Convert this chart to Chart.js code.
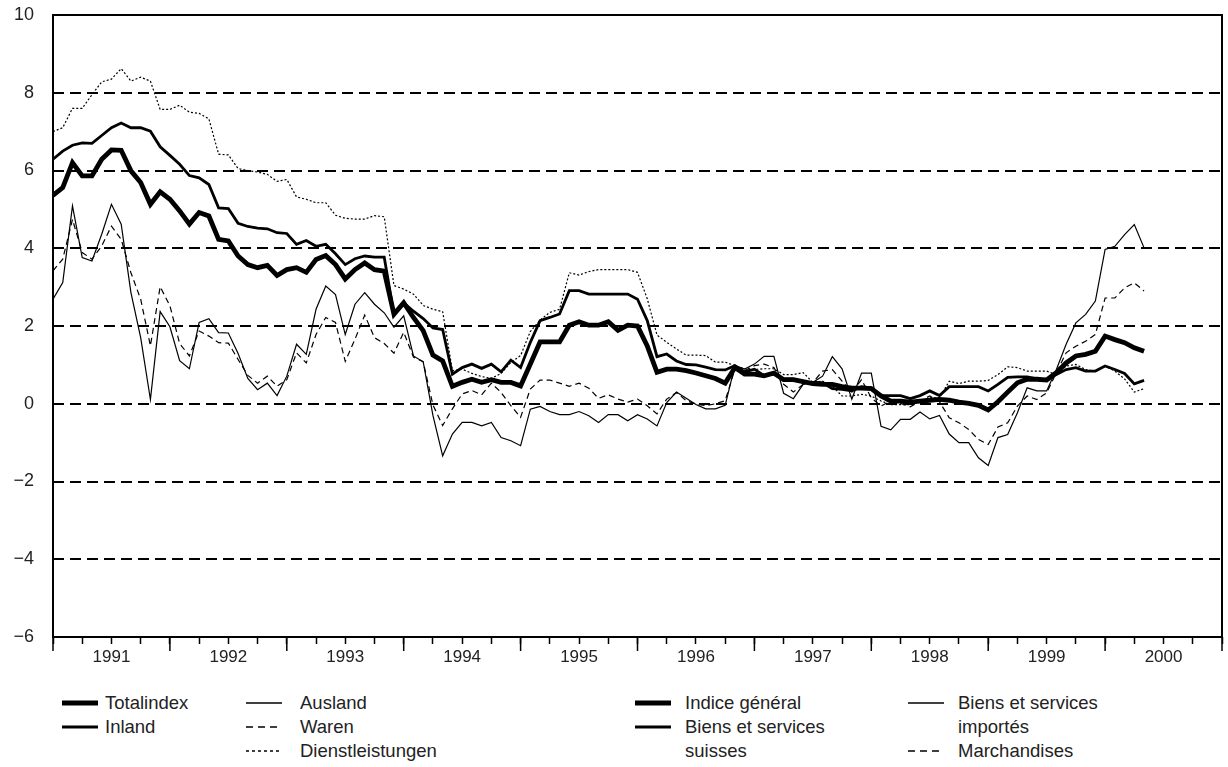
<!DOCTYPE html>
<html>
<head>
<meta charset="utf-8">
<script src="https://cdn.jsdelivr.net/npm/chart.js@4.4.0/dist/chart.umd.min.js"></script>
<style>
  body { margin: 0; background: #fff; }
  #wrap { position: relative; width: 1228px; height: 767px; font-family: "Liberation Sans", Arial, sans-serif; color: #222; }
  #chart { position: absolute; left: 0; top: 0; }
  .lg { position: absolute; font-size: 18.5px; line-height: 24px; white-space: nowrap; }
  .sw { position: absolute; }
</style>
</head>
<body>
<div id="wrap">
  <canvas id="chart" width="1228" height="680"></canvas>
  <div id="legend"></div>
</div>
<script>
// monthly values, Jan 1991 .. May 2000
const yearLabels = ['1991', '1992', '1993', '1994', '1995', '1996', '1997', '1998', '1999', '2000'];

const totalindex = [
  5.36, 5.56, 6.2, 5.86, 5.86, 6.29, 6.53, 6.52, 5.99, 5.69,
  5.13, 5.45, 5.26, 4.96, 4.62, 4.92, 4.83, 4.23, 4.19, 3.8,
  3.58, 3.5, 3.56, 3.3, 3.45, 3.5, 3.38, 3.71, 3.81, 3.58,
  3.21, 3.45, 3.62, 3.45, 3.41, 2.3, 2.6, 2.22, 1.88, 1.25,
  1.1, 0.45, 0.55, 0.63, 0.55, 0.62, 0.55, 0.55, 0.46, 1.02,
  1.59, 1.59, 1.59, 2.02, 2.11, 2.02, 2.02, 2.11, 1.89, 2.02,
  2.0, 1.49, 0.81, 0.89, 0.89, 0.85, 0.79, 0.72, 0.65, 0.53,
  0.93, 0.76, 0.76, 0.72, 0.79, 0.62, 0.62, 0.57, 0.52, 0.5,
  0.5, 0.44, 0.4, 0.4, 0.39, 0.2, 0.07, 0.07, 0.04, 0.07,
  0.09, 0.11, 0.09, 0.04, 0.01, -0.04, -0.16, 0.05, 0.3, 0.54,
  0.63, 0.63, 0.61, 0.8, 1.05, 1.23, 1.27, 1.35, 1.74, 1.65,
  1.57, 1.44, 1.35
];

const inland = [
  6.29, 6.5, 6.65, 6.71, 6.7, 6.9, 7.1, 7.22, 7.1, 7.1,
  7.01, 6.61, 6.39, 6.16, 5.87, 5.81, 5.64, 5.04, 5.02, 4.64,
  4.56, 4.52, 4.5, 4.4, 4.38, 4.1, 4.2, 4.05, 4.1, 3.86,
  3.58, 3.73, 3.8, 3.77, 3.77, 2.3, 2.6, 2.38, 2.19, 1.95,
  1.91, 0.76, 0.93, 1.02, 0.91, 1.02, 0.82, 1.12, 0.93, 1.58,
  2.14, 2.22, 2.31, 2.91, 2.91, 2.82, 2.82, 2.82, 2.82, 2.82,
  2.69, 2.14, 1.21, 1.28, 1.1, 1.01, 1.0, 0.94, 0.88, 0.87,
  0.98, 0.82, 0.89, 0.72, 0.76, 0.63, 0.63, 0.55, 0.55, 0.54,
  0.39, 0.37, 0.33, 0.44, 0.41, 0.21, 0.21, 0.21, 0.13, 0.21,
  0.33, 0.21, 0.44, 0.44, 0.44, 0.44, 0.33, 0.5, 0.68, 0.69,
  0.69, 0.64, 0.63, 0.75, 0.88, 0.93, 0.84, 0.84, 0.97, 0.88,
  0.78, 0.51, 0.6
];

const ausland = [
  2.69, 3.12, 5.09, 3.76, 3.67, 4.36, 5.13, 4.62, 2.86, 1.7,
  0.11, 2.37, 1.98, 1.11, 0.9, 2.09, 2.19, 1.83, 1.82, 1.29,
  0.65, 0.36, 0.53, 0.21, 0.71, 1.53, 1.27, 2.43, 3.03, 2.81,
  1.78, 2.56, 2.86, 2.56, 2.34, 1.97, 2.26, 1.23, 1.08, -0.3,
  -1.34, -0.78, -0.48, -0.48, -0.57, -0.48, -0.87, -0.95, -1.08, -0.14,
  -0.07, -0.2, -0.28, -0.28, -0.2, -0.31, -0.48, -0.28, -0.28, -0.44,
  -0.28, -0.39, -0.57, 0.03, 0.3, 0.14, -0.02, -0.13, -0.13, -0.04,
  0.98, 0.89, 1.02, 1.22, 1.22, 0.27, 0.13, 0.5, 0.55, 0.71,
  1.21, 0.9, 0.12, 0.79, 0.79, -0.58, -0.67, -0.4, -0.4, -0.21,
  -0.39, -0.3, -0.78, -1.0, -1.0, -1.39, -1.59, -0.87, -0.79, -0.23,
  0.41, 0.33, 0.33, 0.88, 1.53, 2.08, 2.3, 2.64, 3.97, 4.05,
  4.35, 4.61, 4.01
];

const waren = [
  3.42, 3.72, 4.74, 3.89, 3.72, 4.06, 4.57, 4.23, 3.37, 2.69,
  1.49, 3.01, 2.52, 1.55, 1.23, 1.87, 1.74, 1.57, 1.56, 1.14,
  0.73, 0.53, 0.71, 0.45, 0.62, 1.31, 1.05, 1.78, 2.22, 2.09,
  1.09, 1.66, 2.28, 1.7, 1.55, 1.3, 1.84, 1.2, 1.08, -0.03,
  -0.56, -0.13, 0.25, 0.34, 0.23, 0.53, 0.29, -0.05, -0.35, 0.38,
  0.61, 0.61, 0.53, 0.45, 0.53, 0.4, 0.14, 0.23, 0.12, 0.04,
  0.12, -0.05, -0.26, 0.12, 0.29, 0.08, -0.01, -0.05, 0.0, 0.08,
  0.89, 0.85, 0.98, 1.02, 0.93, 0.5, 0.3, 0.5, 0.55, 0.84,
  0.88, 0.58, 0.3, 0.62, 0.15, -0.06, 0.07, 0.01, -0.08, 0.07,
  0.2, 0.05, -0.36, -0.49, -0.66, -0.92, -1.05, -0.6, -0.49, -0.06,
  0.2, 0.11, 0.28, 0.8, 1.31, 1.48, 1.61, 1.78, 2.72, 2.72,
  2.98, 3.11, 2.9
];

const dienstleistungen = [
  7.0, 7.1, 7.6, 7.6, 7.95, 8.28, 8.35, 8.62, 8.3, 8.4,
  8.3, 7.57, 7.57, 7.68, 7.5, 7.47, 7.33, 6.42, 6.4, 6.05,
  6.0, 5.96, 5.9, 5.72, 5.77, 5.32, 5.26, 5.17, 5.17, 4.85,
  4.77, 4.75, 4.75, 4.84, 4.81, 3.04, 2.95, 2.82, 2.53, 2.43,
  2.37, 0.85, 0.89, 0.78, 0.7, 0.65, 0.78, 1.06, 1.24, 1.86,
  2.15, 2.35, 2.43, 3.37, 3.31, 3.4, 3.45, 3.45, 3.45, 3.45,
  3.38, 2.7, 1.77, 1.58, 1.41, 1.25, 1.25, 1.24, 1.07, 1.07,
  0.98, 0.9, 0.88, 0.9, 0.9, 0.75, 0.75, 0.8, 0.55, 0.58,
  0.45, 0.2, 0.2, 0.24, 0.2, 0.07, -0.02, -0.02, -0.02, 0.07,
  0.15, 0.15, 0.58, 0.52, 0.58, 0.58, 0.6, 0.75, 0.95, 0.93,
  0.84, 0.84, 0.84, 0.75, 0.97, 1.01, 0.88, 0.84, 0.97, 0.84,
  0.64, 0.3, 0.39
];

const pts = arr => arr.map((v, i) => ({ x: i, y: v }));

const line = (label, arr, width, dash) => ({
  label: label,
  data: pts(arr),
  borderColor: '#000',
  borderWidth: width,
  borderDash: dash,
  pointRadius: 0,
  tension: 0,
  fill: false,
  borderJoinStyle: 'miter'
});

// frame round the plot and the long year ticks
const framePlugin = {
  id: 'frame',
  afterDraw(chart) {
    const { ctx, chartArea: { left, top, right, bottom } } = chart;
    const xs = chart.scales.x;
    ctx.save();
    ctx.strokeStyle = '#000';
    ctx.lineWidth = 2;
    ctx.strokeRect(left, top, right - left, bottom - top);
    ctx.lineWidth = 1.5;
    for (let m = 0; m <= 120; m += 12) {
      const px = xs.getPixelForValue(m);
      ctx.beginPath();
      ctx.moveTo(px, bottom);
      ctx.lineTo(px, bottom + 14);
      ctx.stroke();
    }
    ctx.restore();
  }
};

new Chart(document.getElementById('chart').getContext('2d'), {
  type: 'line',
  data: {
    datasets: [
      line('Totalindex', totalindex, 4.8, []),
      line('Inland', inland, 2.8, []),
      line('Ausland', ausland, 1.2, []),
      line('Waren', waren, 1.2, [6, 4]),
      line('Dienstleistungen', dienstleistungen, 1.2, [2, 2])
    ]
  },
  options: {
    responsive: false,
    animation: false,
    layout: { padding: { top: 15, right: 6, left: 0, bottom: 0 } },
    plugins: { legend: { display: false }, tooltip: { enabled: false } },
    scales: {
      x: {
        type: 'linear',
        min: 0,
        max: 120,
        afterFit: s => { s.height = 43; },
        ticks: {
          stepSize: 3,
          autoSkip: false,
          maxRotation: 0,
          minRotation: 0,
          padding: 3,
          color: '#222',
          font: { family: 'Liberation Sans', size: 17 },
          callback: v => (v % 12 === 6 ? yearLabels[(v - 6) / 12] : '')
        },
        grid: { drawOnChartArea: false, tickLength: 7, tickColor: '#000', tickWidth: 1.5 },
        border: { display: false }
      },
      y: {
        min: -6,
        max: 10,
        afterFit: s => { s.width = 53; s.paddingTop = 0; s.paddingBottom = 0; },
        ticks: {
          stepSize: 2,
          padding: 19,
          color: '#222',
          font: { family: 'Liberation Sans', size: 18 },
          callback: v => (v < 0 ? '\u2212' + Math.abs(v) : String(v))
        },
        grid: {
          drawTicks: false,
          lineWidth: 2,
          color: c => (c.tick && (c.tick.value === -6 || c.tick.value === 10) ? 'rgba(0,0,0,0)' : '#000')
        },
        border: { display: false, dash: [11, 6] }
      }
    }
  },
  plugins: [framePlugin]
});

// legend, drawn as page text
const legendItems = [
  { sx: 62, tx: 105, row: 0, w: 5, dash: '', text: 'Totalindex' },
  { sx: 62, tx: 105, row: 1, w: 3, dash: '', text: 'Inland' },
  { sx: 246, tx: 300, row: 0, w: 1.3, dash: '', text: 'Ausland' },
  { sx: 246, tx: 300, row: 1, w: 1.3, dash: '7 5', text: 'Waren' },
  { sx: 246, tx: 300, row: 2, w: 1.3, dash: '3 3', text: 'Dienstleistungen' },
  { sx: 635, tx: 685, row: 0, w: 5, dash: '', text: 'Indice g\u00e9n\u00e9ral' },
  { sx: 635, tx: 685, row: 1, w: 3, dash: '', text: 'Biens et services<br>suisses' },
  { sx: 908, tx: 958, row: 0, w: 1.3, dash: '', text: 'Biens et services<br>import\u00e9s' },
  { sx: 908, tx: 958, row: 2, w: 1.3, dash: '7 5', text: 'Marchandises' }
];
const legend = document.getElementById('legend');
legendItems.forEach(it => {
  const top = 691 + it.row * 24;
  const sw = document.createElementNS('http://www.w3.org/2000/svg', 'svg');
  sw.setAttribute('class', 'sw');
  sw.setAttribute('width', '40');
  sw.setAttribute('height', '24');
  sw.style.left = it.sx + 'px';
  sw.style.top = top + 'px';
  sw.innerHTML = '<line x1="0" y1="12" x2="36" y2="12" stroke="#000" stroke-width="' + it.w + '"' +
    (it.dash ? ' stroke-dasharray="' + it.dash + '"' : '') + '/>';
  legend.appendChild(sw);
  const d = document.createElement('div');
  d.className = 'lg';
  d.style.left = it.tx + 'px';
  d.style.top = top + 'px';
  d.innerHTML = it.text;
  legend.appendChild(d);
});
</script>
</body>
</html>
